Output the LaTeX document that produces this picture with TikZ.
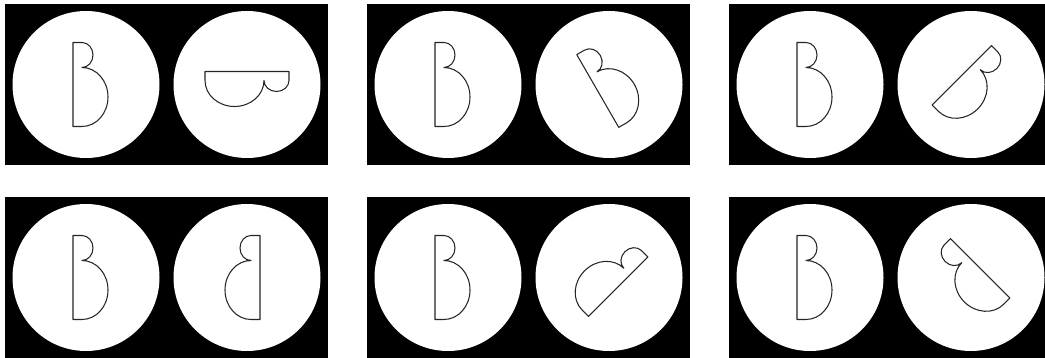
\documentclass[tikz,border=0pt]{standalone}
\usepackage{tikz}

\tikzset{
  feld/.style={fill=black},
  scheibe/.style={fill=white},
  figur/.style={draw=black!85, line width=0.6pt, line join=round},
  bform/.pic={
    \draw[figur] (-13,42) -- (-4,42)
      arc[start angle=90, end angle=-90, x radius=11, y radius=12.5]
      arc[start angle=90, end angle=-90, x radius=26, y radius=29.5]
      -- (-13,-42) -- cycle;
  }
}

\begin{document}
\begin{tikzpicture}[x=0.02cm,y=0.02cm]

% Rahmen
\clip (0,0) rectangle (1045,358);
\fill[white] (0,0) rectangle (1045,358);

% Felder: links die Vorlage, rechts gedreht / gespiegelt
\foreach \px/\py/\dreh/\spiegel in {5/193/-90/1, 367/193/30/1, 729/193/-45/1,
                                    5/0/0/-1, 367/0/-45/-1, 729/0/45/-1} {
  \fill[feld] (\px,\py) rectangle ++(323,161);
  \fill[scheibe] (\px+81,\py+80.5) circle (73.5);
  \fill[scheibe] (\px+242,\py+80.5) circle (73.5);
  \pic at (\px+81,\py+80.5) {bform}; % Vorlage
  \pic[rotate=\dreh, xscale=\spiegel] at (\px+242,\py+80.5) {bform};
}

\end{tikzpicture}
\end{document}
